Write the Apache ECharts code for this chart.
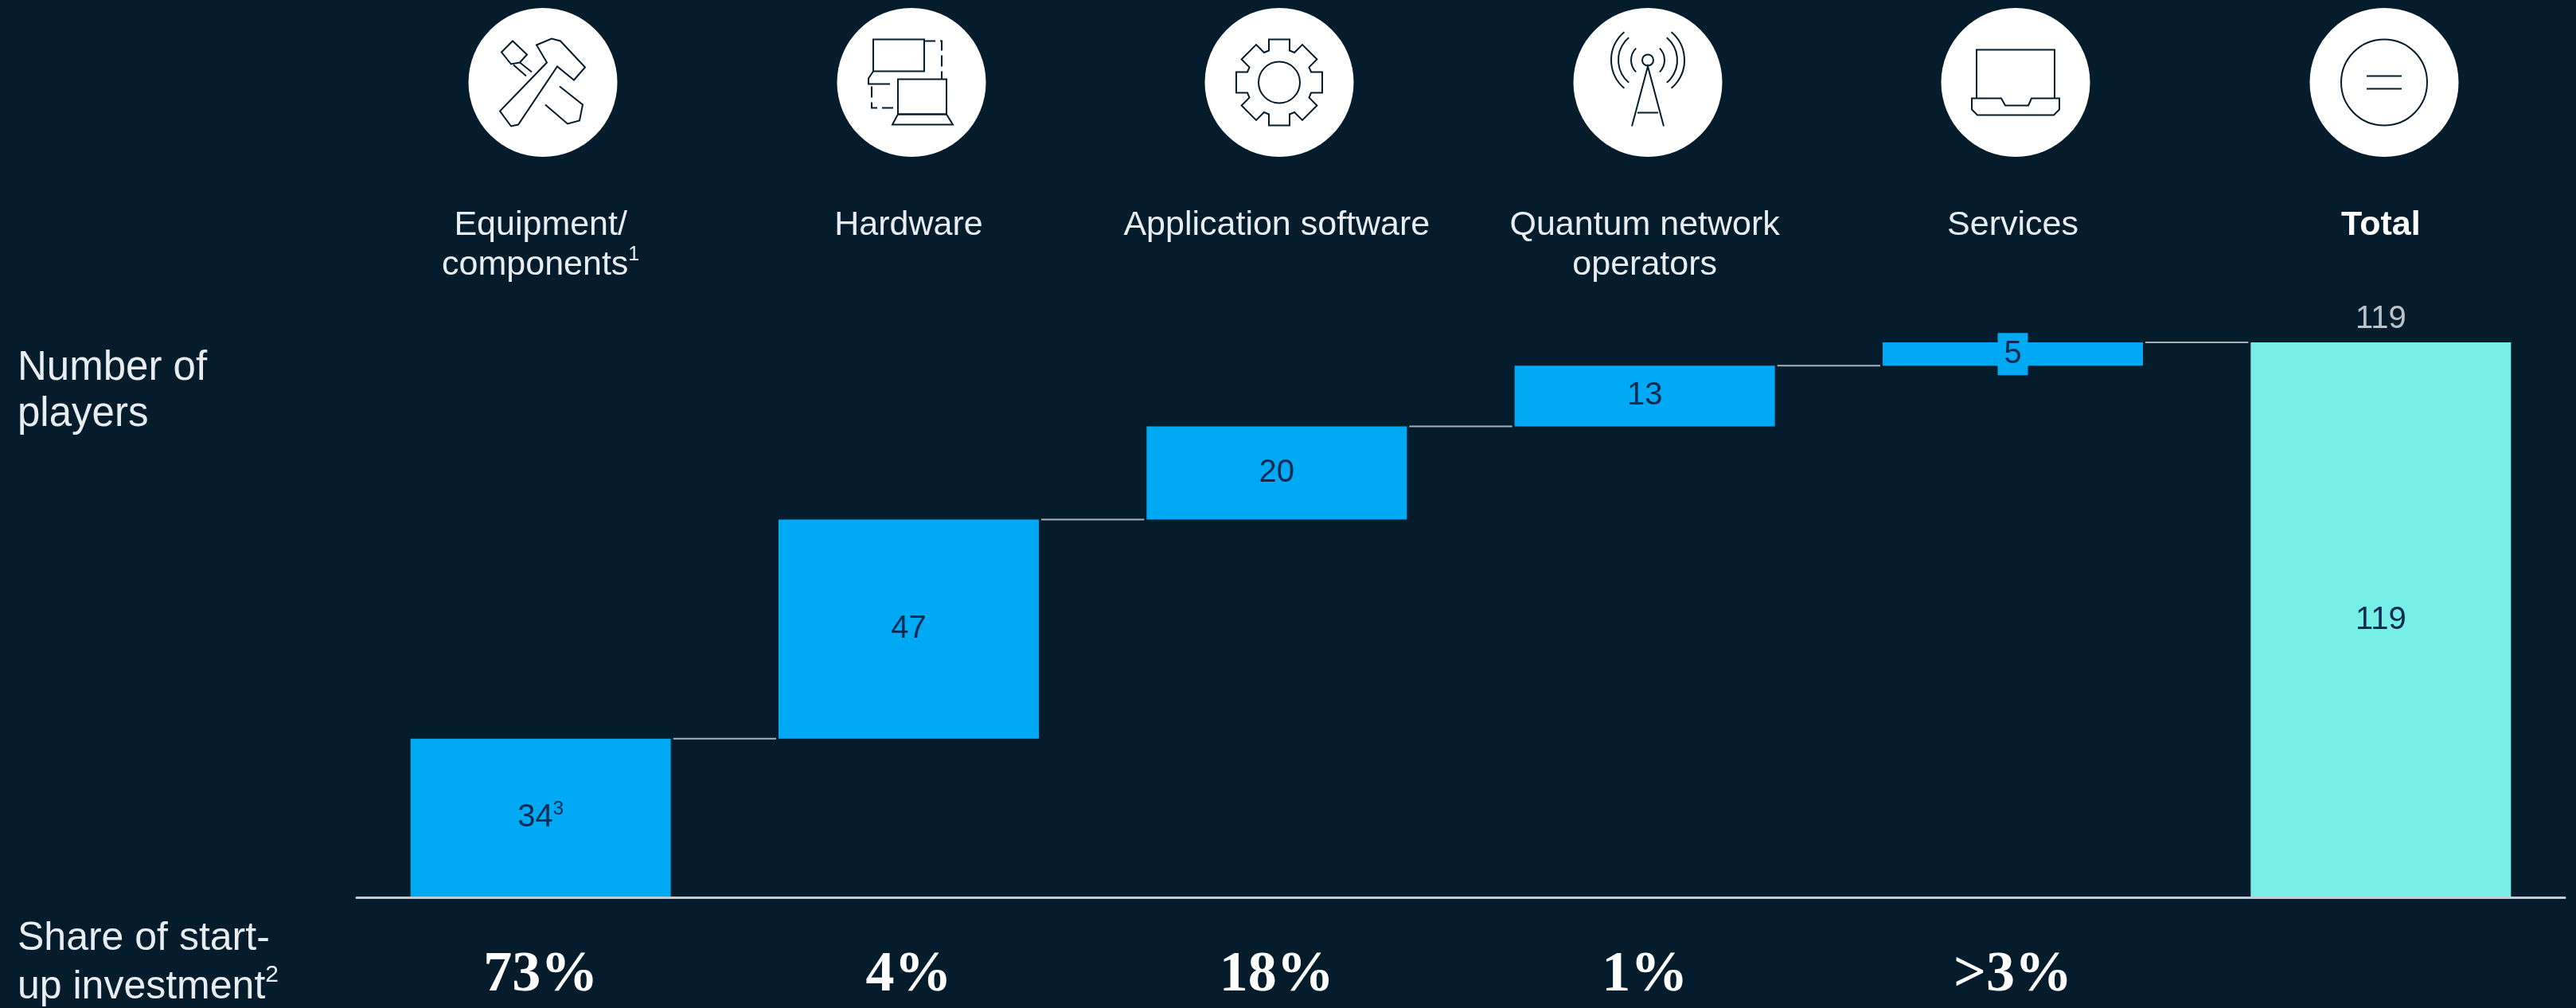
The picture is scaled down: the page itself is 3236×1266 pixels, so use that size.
<!DOCTYPE html>
<html>
<head>
<meta charset="utf-8">
<title>Quantum start-ups</title>
<style>
html, body { margin: 0; padding: 0; background: #051c2c; }
#chart { width: 3236px; height: 1266px; }
</style>
<script src="https://cdn.jsdelivr.net/npm/echarts@6/dist/echarts.min.js"></script>
</head>
<body>
<div id="chart"></div>
<script>
// chart data
var categories = ['Equipment/\ncomponents', 'Hardware', 'Application software', 'Quantum network\noperators', 'Services', 'Total'];
var categorySups = ['1', '', '', '', '', ''];
var playerValues = [34, 47, 20, 13, 5, 119];
var baseValues = [0, 34, 81, 101, 114, 0];
var valueSups = ['3', '', '', '', '', ''];
var shareLabels = ['73%', '4%', '18%', '1%', '>3%', ''];
var totalLabel = 119;

var BG = '#051c2c';
var BLUE = '#00a9f4';
var TEAL = '#76f0e6';
var TEXT = '#e8edf1';
var LABEL_DARK = '#0b2a52';
var SANS = '"Liberation Sans", Arial, sans-serif';
var BAR_W = 327;

var chart = echarts.init(document.getElementById('chart'));

// icons: line drawings on white circles
var iconStyle = { stroke: BG, lineWidth: 2, fill: null };
function poly(pts) { return { type: 'polyline', shape: { points: pts }, style: iconStyle }; }
function gon(pts) { return { type: 'polygon', shape: { points: pts }, style: iconStyle }; }
function dash(pts) {
	return { type: 'polyline', shape: { points: pts }, style: { stroke: BG, lineWidth: 2, fill: null, lineDash: [14, 6] } };
}
function arc(cx, cy, r, a0, a1) {
	return { type: 'arc', shape: { cx: cx, cy: cy, r: r, startAngle: a0, endAngle: a1 }, style: iconStyle };
}
function circ(cx, cy, r) {
	return { type: 'circle', shape: { cx: cx, cy: cy, r: r }, style: iconStyle };
}

var gearPts = [];
for (var k = 0; k < 8; k++) {
	var a = k * Math.PI / 4;
	[[-13, -40], [-13, -54], [13, -54], [13, -40]].forEach(function(p){
		gearPts.push([p[0] * Math.cos(a) - p[1] * Math.sin(a), p[0] * Math.sin(a) + p[1] * Math.cos(a)]);
	});
}

var D = Math.PI / 180;
var icons = [
	[
		gon([[-8, -47], [11, -55], [22, -52], [53, -19], [39, -3], [18, -20], [-31, 53], [-40, 55], [-54, 36], [5, -25]]),
		gon([[-52, -38], [-38, -52], [-20, -35], [-29, -25], [-40, -23]]),
		poly([[-29, -25], [-14, -13]]),
		poly([[-37, -22], [-21, -8]]),
		poly([[21, 5], [50, 28], [46, 48], [31, 52], [3, 28]])
	],
	[
		{ type: 'rect', shape: { x: -48, y: -54, width: 64, height: 40 }, style: iconStyle },
		poly([[-48, -14], [-54, -5], [-54, 2], [-27, 2]]),
		dash([[16, -52], [38, -52], [38, -4]]),
		dash([[-50, 5], [-50, 32], [-17, 32]]),
		{ type: 'rect', shape: { x: -17, y: -4, width: 61, height: 44 }, style: iconStyle },
		gon([[-17, 40], [-24, 53], [52, 53], [44, 40]])
	],
	[gon(gearPts), circ(0, 0, 26)],
	[
		poly([[-20, 55], [0, -20], [20, 55]]),
		poly([[-13, 38], [13, 38]]),
		circ(0, -28, 7),
		arc(0, -28, 21, -45 * D, 45 * D), arc(0, -28, 21, 135 * D, 225 * D),
		arc(0, -28, 37, -50 * D, 50 * D), arc(0, -28, 37, 130 * D, 230 * D),
		arc(0, -28, 46, -50 * D, 50 * D), arc(0, -28, 46, 130 * D, 230 * D)
	],
	[
		poly([[-49, 20], [-49, -41], [49, -41], [49, 20]]),
		gon([[-55, 20], [-55, 34], [-48, 41], [48, 41], [55, 34], [55, 20], [20, 20], [16, 29], [-13, 29], [-18, 20]])
	],
	[circ(0, 0, 54), poly([[-22, -8], [22, -8]]), poly([[-22, 8], [22, 8]])]
];
var iconX = [682, 1145, 1607, 2070, 2532, 2995];

var graphics = icons.map(function(parts, i){
	return {
		type: 'group',
		x: iconX[i],
		y: 103.5,
		children: [{ type: 'circle', shape: { cx: 0, cy: 0, r: 93.5 }, style: { fill: '#fff' } }].concat(parts)
	};
});

graphics.push({
	type: 'text', x: 22, y: 434,
	style: { text: 'Number of\nplayers', font: '51px ' + SANS, fill: TEXT, lineHeight: 58 }
});
graphics.push({
	type: 'text', x: 22, y: 1149,
	style: {
		text: '{t|Share of start-}\n{t|up investment}{s|2}',
		rich: {
			t: { font: '50px ' + SANS, fill: TEXT, lineHeight: 61 },
			s: { font: '30px ' + SANS, fill: TEXT, verticalAlign: 'top', lineHeight: 61 }
		}
	}
});

var option = {
	backgroundColor: BG,
	animation: false,
	graphic: graphics,
	grid: { left: 448, right: 14, top: 430, bottom: 139 },
	xAxis: [
		{
			type: 'category',
			data: categories,
			z: 10,
			axisLine: { lineStyle: { color: '#c3ccd5', width: 3 } },
			axisTick: { show: false },
			axisLabel: { show: false }
		},
		{
			type: 'category',
			position: 'top',
			data: categories,
			axisLine: { show: false },
			axisTick: { show: false },
			axisLabel: {
				interval: 0,
				margin: 172,
				verticalAlign: 'top',
				formatter: function(value, i){
					var style = i === 5 ? 'b' : 't';
					var lines = value.split('\n').map(function(l){ return '{' + style + '|' + l + '}'; });
					if (categorySups[i]) {
						lines[lines.length - 1] += '{s|' + categorySups[i] + '}';
					}
					return lines.join('\n');
				},
				rich: {
					t: { fontFamily: SANS, fontSize: 43, color: TEXT, lineHeight: 50 },
					b: { fontFamily: SANS, fontSize: 43, fontWeight: 'bold', color: '#fff', lineHeight: 50 },
					s: { fontFamily: SANS, fontSize: 25, color: TEXT, verticalAlign: 'top', lineHeight: 50 }
				}
			}
		},
		{
			type: 'category',
			position: 'bottom',
			data: shareLabels,
			axisLine: { show: false },
			axisTick: { show: false },
			axisLabel: {
				interval: 0,
				margin: 98,
				verticalAlign: 'middle',
				fontFamily: '"Liberation Serif", serif',
				fontWeight: 'bold',
				fontSize: 72,
				color: '#fff'
			}
		}
	],
	yAxis: { type: 'value', min: 0, max: 119, show: false, splitLine: { show: false } },
	series: [
		{
			name: 'base',
			type: 'bar',
			stack: 'players',
			barWidth: BAR_W,
			silent: true,
			itemStyle: { color: 'transparent' },
			data: baseValues
		},
		{
			name: 'players',
			type: 'bar',
			stack: 'players',
			barWidth: BAR_W,
			data: playerValues.map(function(v, i){
				return {
					value: v,
					itemStyle: { color: i === 5 ? TEAL : BLUE }
				};
			}),
			label: {
				show: true,
				position: 'inside',
				formatter: function(p){
					if (p.dataIndex === 4) {
						return '{box|' + p.value + '}';
					}
					var txt = '{n|' + p.value + '}';
					if (valueSups[p.dataIndex]) {
						txt += '{s|' + valueSups[p.dataIndex] + '}';
					}
					return txt;
				},
				rich: {
					n: { fontFamily: SANS, fontSize: 40, color: LABEL_DARK, lineHeight: 46 },
					s: { fontFamily: SANS, fontSize: 24, color: LABEL_DARK, verticalAlign: 'top', lineHeight: 46 },
					box: {
						fontFamily: SANS, fontSize: 40, color: LABEL_DARK,
						backgroundColor: BLUE, width: 38, height: 53, align: 'center', lineHeight: 53
					}
				}
			}
		},
		{
			name: 'total label',
			type: 'scatter',
			symbolSize: 0,
			silent: true,
			data: [[5, totalLabel]],
			label: {
				show: true,
				position: 'top',
				distance: 9,
				formatter: function(p){ return p.value[1]; },
				fontFamily: SANS,
				fontSize: 40,
				color: TEXT
			}
		},
		{
			name: 'connectors',
			type: 'custom',
			silent: true,
			z: 3,
			clip: false,
			data: playerValues.slice(0, 5).map(function(v, i){ return [i, baseValues[i] + v]; }),
			renderItem: function(params, api){
				var from = api.coord([api.value(0), api.value(1)]);
				var to = api.coord([api.value(0) + 1, api.value(1)]);
				return {
					type: 'line',
					shape: { x1: from[0] + BAR_W / 2 + 3, y1: from[1], x2: to[0] - BAR_W / 2 - 3, y2: to[1] },
					style: { stroke: '#a8b0b8', lineWidth: 2 }
				};
			}
		}
	]
};

chart.setOption(option);
</script>
</body>
</html>
